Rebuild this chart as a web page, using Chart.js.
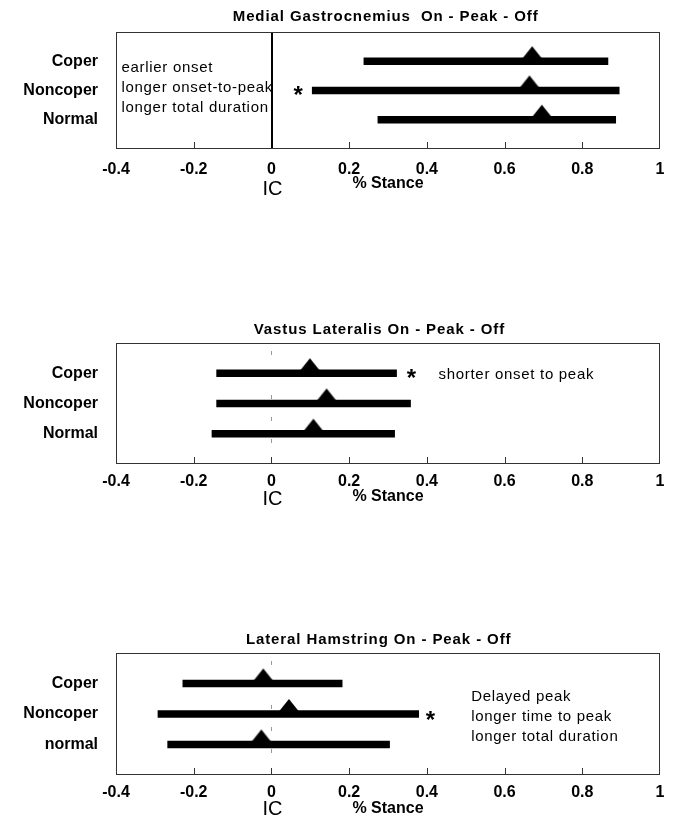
<!DOCTYPE html>
<html>
<head>
<meta charset="utf-8">
<script src="https://cdn.jsdelivr.net/npm/chart.js@4.4.1/dist/chart.umd.min.js"></script>
<style>
  html, body { margin: 0; padding: 0; background: #fff; }
  body { width: 673px; height: 819px; position: relative; overflow: hidden; }
  canvas { position: absolute; left: 0; }
</style>
</head>
<body>
<canvas id="mgChart" width="673" height="205" style="top:0px"></canvas>
<canvas id="vlChart" width="673" height="205" style="top:310px"></canvas>
<canvas id="lhChart" width="673" height="199" style="top:620px"></canvas>
<script>
// x axis (fraction of stance, 0 = initial contact)
const xTicks = [-0.4, -0.2, 0, 0.2, 0.4, 0.6, 0.8, 1];
const groups = ['Coper', 'Noncoper', 'Normal'];
const lhGroups = ['Coper', 'Noncoper', 'normal'];

// Medial Gastrocnemius: onset, peak, offset
const mgOn = [0.238, 0.105, 0.274];
const mgPeak = [0.671, 0.664, 0.696];
const mgOff = [0.866, 0.895, 0.886];

// Vastus Lateralis
const vlOn = [-0.141, -0.141, -0.153];
const vlPeak = [0.099, 0.142, 0.108];
const vlOff = [0.322, 0.358, 0.317];

// Lateral Hamstring
const lhOn = [-0.228, -0.292, -0.267];
const lhPeak = [-0.021, 0.045, -0.026];
const lhOff = [0.182, 0.379, 0.304];

const FONT = '"Liberation Sans", Arial, Helvetica, sans-serif';

// peak marker: triangle sitting on the bar
function makeTriangle() {
  const c = document.createElement('canvas');
  c.width = 24;
  c.height = 32;
  const g = c.getContext('2d');
  g.fillStyle = '#000';
  g.beginPath();
  g.moveTo(12, 1);
  g.lineTo(24, 16);
  g.lineTo(0, 16);
  g.closePath();
  g.fill();
  return c;
}
const triangle = makeTriangle();

function makeDecor(deco) {
  return {
    id: 'panelDecor',
    beforeDatasetsDraw(chart) {
      const { ctx, chartArea: a, scales: { x } } = chart;
      const x0 = Math.round(x.getPixelForValue(0));
      ctx.save();
      if (deco.zeroLine === 'solid') {
        ctx.strokeStyle = '#000';
        ctx.lineWidth = 2;
        ctx.beginPath();
        ctx.moveTo(x0 + 1, a.top);
        ctx.lineTo(x0 + 1, a.bottom);
        ctx.stroke();
      } else {
        ctx.strokeStyle = '#999';
        ctx.lineWidth = 1;
        ctx.setLineDash([4, 18]);
        ctx.beginPath();
        ctx.moveTo(x0 + 0.5, a.top + 8);
        ctx.lineTo(x0 + 0.5, a.bottom);
        ctx.stroke();
      }
      ctx.restore();
    },
    afterDraw(chart) {
      const { ctx, chartArea: a, scales: { x, y } } = chart;
      ctx.save();
      // frame
      ctx.strokeStyle = '#333';
      ctx.lineWidth = 1;
      ctx.strokeRect(a.left + 0.5, a.top + 0.5, a.width - 1, a.height - 1);
      // inner tick marks
      ctx.beginPath();
      xTicks.forEach(v => {
        if (v === xTicks[0] || v === xTicks[xTicks.length - 1]) return;
        if (v === 0 && deco.zeroLine === 'solid') return;
        const px = Math.round(x.getPixelForValue(v)) + 0.5;
        ctx.moveTo(px, a.bottom);
        ctx.lineTo(px, a.bottom - 7);
      });
      ctx.stroke();

      ctx.fillStyle = '#000';
      ctx.textBaseline = 'middle';
      // title
      ctx.textAlign = 'center';
      ctx.font = 'bold 15px ' + FONT;
      ctx.letterSpacing = '0.9px';
      ctx.fillText(deco.title, x.getPixelForValue(deco.titleX), a.top - deco.titleGap);
      ctx.letterSpacing = '0px';
      // axis captions
      ctx.font = 'bold 16px ' + FONT;
      ctx.fillText('% Stance', x.getPixelForValue(0.3), a.bottom + deco.stanceDy);
      ctx.font = '20px ' + FONT;
      ctx.fillText('IC', x.getPixelForValue(0) + 1, a.bottom + deco.icDy);
      // notes
      ctx.textAlign = 'left';
      ctx.font = '15px ' + FONT;
      ctx.letterSpacing = '0.7px';
      const nx = x.getPixelForValue(deco.notes.x);
      const ny = y.getPixelForValue(deco.notes.y) + 2;
      deco.notes.lines.forEach((t, i) => ctx.fillText(t, nx, ny + i * 20));
      ctx.letterSpacing = '0px';
      // significance mark
      ctx.textAlign = 'center';
      ctx.textBaseline = 'alphabetic';
      ctx.font = 'bold 24px ' + FONT;
      ctx.fillText('*', x.getPixelForValue(deco.star.x), y.getPixelForValue(deco.star.y) + 11);
      ctx.restore();
    }
  };
}

function makePanel(id, labels, on, peak, off, deco) {
  const tickFont = { family: FONT, size: 16, weight: 'bold' };
  new Chart(document.getElementById(id), {
    type: 'bar',
    data: {
      datasets: [
        {
          type: 'scatter',
          data: peak.map((v, i) => ({ x: v, y: i + 1 })),
          pointStyle: triangle,
          pointRadius: 12,
          order: 0
        },
        {
          type: 'bar',
          data: labels.map((_, i) => ({ x: [on[i], off[i]], y: i + 1 })),
          backgroundColor: '#000',
          borderWidth: 0,
          borderSkipped: false,
          barThickness: 7,
          order: 1
        }
      ]
    },
    options: {
      responsive: false,
      animation: false,
      indexAxis: 'y',
      layout: { padding: { top: deco.padTop, right: 11, left: 0, bottom: 0 } },
      plugins: { legend: { display: false }, tooltip: { enabled: false } },
      scales: {
        x: {
          type: 'linear',
          min: -0.4,
          max: 1,
          offset: false,
          grid: { display: false, drawTicks: false },
          border: { display: false },
          afterBuildTicks: s => { s.ticks = xTicks.map(v => ({ value: v })); },
          afterFit: s => {
            s.height = deco.axisH;
            s.paddingLeft = 0;
            s.paddingRight = 0;
          },
          ticks: {
            padding: deco.tickPad,
            color: '#000',
            font: tickFont,
            autoSkip: false,
            maxRotation: 0,
            callback: v => String(v)
          }
        },
        y: {
          type: 'linear',
          min: 0,
          max: 4,
          reverse: true,
          offset: false,
          grid: { display: false, drawTicks: false },
          border: { display: false },
          afterBuildTicks: s => { s.ticks = labels.map((_, i) => ({ value: i + 1 })); },
          afterFit: s => {
            s.width = 116;
            s.paddingTop = 0;
            s.paddingBottom = 0;
          },
          ticks: {
            padding: 18,
            color: '#000',
            font: tickFont,
            autoSkip: false,
            callback: v => labels[v - 1]
          }
        }
      }
    },
    plugins: [makeDecor(deco)]
  });
}

makePanel('mgChart', groups, mgOn, mgPeak, mgOff, {
  title: 'Medial Gastrocnemius  On - Peak - Off',
  titleX: 0.294, titleGap: 15,
  padTop: 32, axisH: 56, tickPad: 11,
  stanceDy: 35, icDy: 40,
  zeroLine: 'solid',
  notes: { x: -0.386, y: 1.154, lines: ['earlier onset', 'longer onset-to-peak', 'longer total duration'] },
  star: { x: 0.069, y: 2.065 }
});

makePanel('vlChart', groups, vlOn, vlPeak, vlOff, {
  title: 'Vastus Lateralis On - Peak - Off',
  titleX: 0.278, titleGap: 13,
  padTop: 33, axisH: 51, tickPad: 8,
  stanceDy: 33, icDy: 35,
  zeroLine: 'dashed',
  notes: { x: 0.43, y: 0.972, lines: ['shorter onset to peak'] },
  star: { x: 0.36, y: 1.048 }
});

makePanel('lhChart', lhGroups, lhOn, lhPeak, lhOff, {
  title: 'Lateral Hamstring On - Peak - Off',
  titleX: 0.276, titleGap: 13,
  padTop: 33, axisH: 44, tickPad: 8,
  stanceDy: 34, icDy: 34,
  zeroLine: 'dashed',
  notes: { x: 0.514, y: 1.372, lines: ['Delayed peak', 'longer time to peak', 'longer total duration'] },
  star: { x: 0.409, y: 2.105 }
});
</script>
</body>
</html>
